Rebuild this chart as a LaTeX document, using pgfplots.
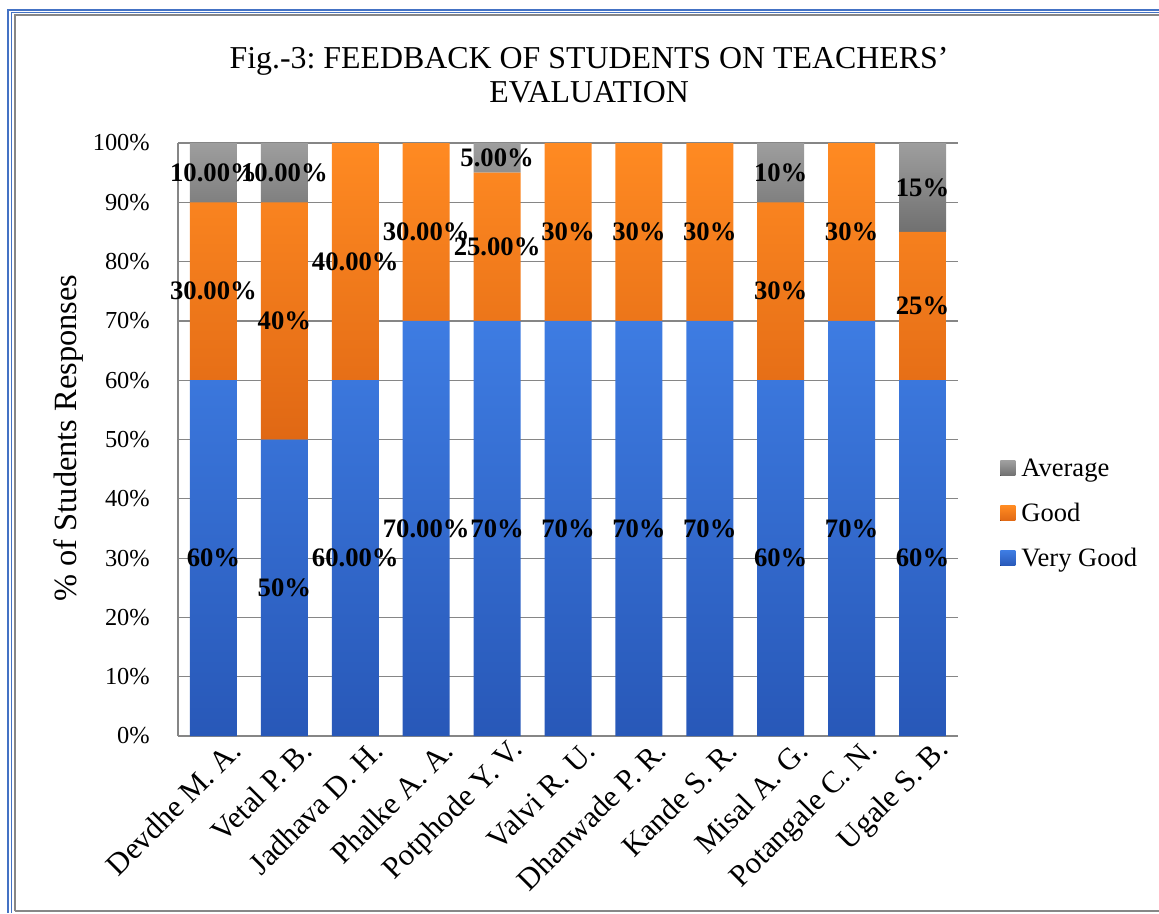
\documentclass[border=0pt]{standalone}
\usepackage{fontspec}
\setmainfont{Liberation Serif}
\usepackage{pgfplots}
\usepackage{pgfplotstable}
\pgfplotsset{compat=1.18}
\frenchspacing

\definecolor{vgTop}{RGB}{62,124,226}
\definecolor{vgBot}{RGB}{40,88,184}
\definecolor{gdTop}{RGB}{255,138,34}
\definecolor{gdBot}{RGB}{224,104,20}
\definecolor{avTop}{RGB}{158,158,158}
\definecolor{avBot}{RGB}{112,112,112}
\definecolor{frameblue}{RGB}{68,114,196}
\definecolor{framegray}{RGB}{135,135,135}
\definecolor{gridgray}{RGB}{134,134,134}

\pgfplotstableread{
x vg good avg
0 60 30 10
1 50 40 10
2 60 40 0
3 70 30 0
4 70 25 5
5 70 30 0
6 70 30 0
7 70 30 0
8 60 30 10
9 70 30 0
10 60 25 15
}\feedback

\pgfplotstableread{
x y label
0 30 60\%
1 25 50\%
2 30 60.00\%
3 35 70.00\%
4 35 70\%
5 35 70\%
6 35 70\%
7 35 70\%
8 30 60\%
9 35 70\%
10 30 60\%
0 75 30.00\%
1 70 40\%
2 80 40.00\%
3 85 30.00\%
4 82.5 25.00\%
5 85 30\%
6 85 30\%
7 85 30\%
8 75 30\%
9 85 30\%
10 72.5 25\%
0 95 10.00\%
1 95 10.00\%
4 97.5 5.00\%
8 95 10\%
10 92.5 15\%
}\labels

\begin{document}
\begin{tikzpicture}
\useasboundingbox (0,0) rectangle (869.25pt,-684.75pt);
% outer frame
\draw[frameblue, line width=1.5pt] (6pt,-684.75pt) -- (6pt,-7.5pt) -- (869.25pt,-7.5pt);
\draw[frameblue, line width=1pt] (8.625pt,-684.75pt) -- (8.625pt,-9.375pt) -- (869.25pt,-9.375pt);
\draw[framegray, line width=1.5pt] (10.875pt,-683.6pt) -- (10.875pt,-11.25pt) -- (869.25pt,-11.25pt);
\draw[framegray, line width=1.5pt] (10.875pt,-683.6pt) -- (869.25pt,-683.6pt);

\begin{axis}[
  at={(133.5pt,-552pt)}, anchor=south west,
  scale only axis, width=585pt, height=444.75pt,
  xmin=-0.5, xmax=10.5, ymin=0, ymax=100,
  ybar stacked, bar width=35.25pt,
  axis x line*=bottom, axis y line*=left,
  axis line style={gridgray, line width=1pt},
  ymajorgrids, major grid style={gridgray, line width=0.9pt},
  major tick length=0pt,
  ytick={0,10,...,100},
  yticklabels={0\%,10\%,20\%,30\%,40\%,50\%,60\%,70\%,80\%,90\%,100\%},
  yticklabel style={font=\fontsize{18.3}{20}\selectfont, inner sep=0pt, xshift=-21pt},
  xtick={0,...,10},
  xticklabels={Devdhe M. A.,Vetal P. B.,Jadhava D. H.,Phalke A. A.,Potphode Y. V.,Valvi R. U.,Dhanwade P. R.,Kande S. R.,Misal A. G.,Potangale C. N.,Ugale S. B.},
  xticklabel style={font=\fontsize{23}{24}\selectfont, xshift=16.5pt, yshift=-7.5pt, rotate=45, anchor=east, inner sep=0pt},
  title={Fig.-3: FEEDBACK OF STUDENTS ON TEACHERS’\\EVALUATION},
  title style={at={(axis description cs:0.527,1.101)}, anchor=center, align=center, font=\fontsize{23.9}{25.5}\selectfont},
  ylabel={\% of Students Responses},
  ylabel style={at={(axis description cs:-0.1397,0.5025)}, anchor=center, font=\fontsize{24.3}{25}\selectfont},
  reverse legend,
  legend cell align=left,
  legend image code/.code={\fill[#1] (0pt,-4.6pt) rectangle (11.25pt,6.65pt);},
  legend style={draw=none, fill=none, inner sep=0pt, at={(1.054,0.373)}, anchor=west,
    row sep=15.75pt, column sep=4.5pt,
    font=\fontsize{19.9}{21}\selectfont,
    nodes={inner sep=0pt, text height=14pt, text depth=4pt}},
]
\addplot[draw=none, top color=vgTop, bottom color=vgBot] table[x=x, y=vg] {\feedback};
\addlegendentry{Very Good}
\addplot[draw=none, top color=gdTop, bottom color=gdBot] table[x=x, y=good] {\feedback};
\addlegendentry{Good}
\addplot[draw=none, top color=avTop, bottom color=avBot] table[x=x, y=avg] {\feedback};
\addlegendentry{Average}
\end{axis}

\begin{axis}[
  at={(133.5pt,-552pt)}, anchor=south west,
  scale only axis, width=585pt, height=444.75pt,
  xmin=-0.5, xmax=10.5, ymin=0, ymax=100,
  hide axis, clip=false,
]
\addplot[draw=none, mark=none, nodes near coords, nodes near coords align=center,
  point meta=explicit symbolic,
  every node near coord/.append style={font=\bfseries\fontsize{20}{21}\selectfont, inner sep=0pt, text=black}]
  table[x=x, y=y, meta=label] {\labels};
\end{axis}
\end{tikzpicture}
\end{document}
